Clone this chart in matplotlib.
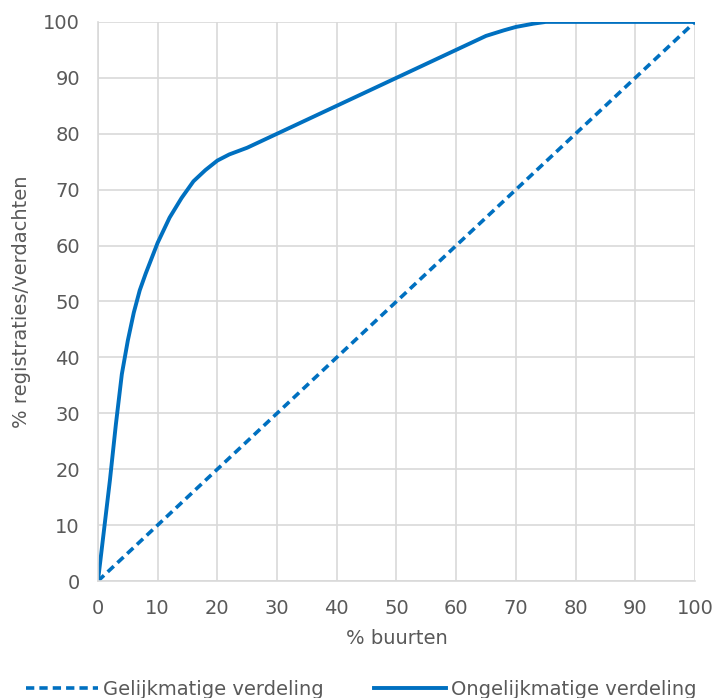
import matplotlib.pyplot as plt

# % buurten vs % registraties/verdachten
x_gelijk = [0, 100]
y_gelijk = [0, 100]

x_ongelijk = [0, 1, 2, 3, 4, 5, 6, 7, 8, 10, 12, 14, 16, 18, 20, 22, 25, 30,
              40, 50, 60, 63, 65, 68, 70, 73, 75, 80, 90, 100]
y_ongelijk = [0, 9, 18, 28, 37, 43, 48, 52, 55, 60.5, 65, 68.5, 71.5, 73.5, 75.2, 76.3, 77.5, 80,
              85, 90, 95, 96.5, 97.5, 98.5, 99.1, 99.7, 100, 100, 100, 100]

ticks = list(range(0, 101, 10))

blue = '#0070c0'
grey = '#595959'
fs = 14

plt.rcParams['font.family'] = 'DejaVu Sans'

fig = plt.figure(figsize=(7.15, 6.98), dpi=100)
ax = fig.add_axes([0.137, 0.1676, 0.835, 0.801])

ax.plot(x_gelijk, y_gelijk, color=blue, linewidth=2.6, linestyle=(0, (2.3, 1.4)),
        label='Gelijkmatige verdeling')
ax.plot(x_ongelijk, y_ongelijk, color=blue, linewidth=2.8, label='Ongelijkmatige verdeling')

ax.set_xlim(0, 100)
ax.set_ylim(0, 100)
ax.set_xticks(ticks)
ax.set_yticks(ticks)
ax.grid(True, color='#d9d9d9', linewidth=1.2)
ax.set_axisbelow(True)
for s in ['top', 'right']:
    ax.spines[s].set_visible(False)
ax.spines['left'].set_color('#d9d9d9')
ax.spines['bottom'].set_color('#d9d9d9')
ax.spines['left'].set_linewidth(1.2)
ax.spines['bottom'].set_linewidth(1.2)
ax.tick_params(length=0, labelsize=fs, colors=grey)
ax.tick_params(axis='y', pad=13)
ax.tick_params(axis='x', pad=13)

ax.set_xlabel('% buurten', fontsize=fs, color=grey, labelpad=8)
ax.set_ylabel('% registraties/verdachten', fontsize=fs, color=grey, labelpad=9)

fig.legend(loc='lower center', bbox_to_anchor=(0.505, -0.026), ncol=2, frameon=False,
           fontsize=fs, labelcolor=grey, handlelength=3.7, handletextpad=0.25,
           columnspacing=2.6)

plt.savefig('out.png', dpi=100)
